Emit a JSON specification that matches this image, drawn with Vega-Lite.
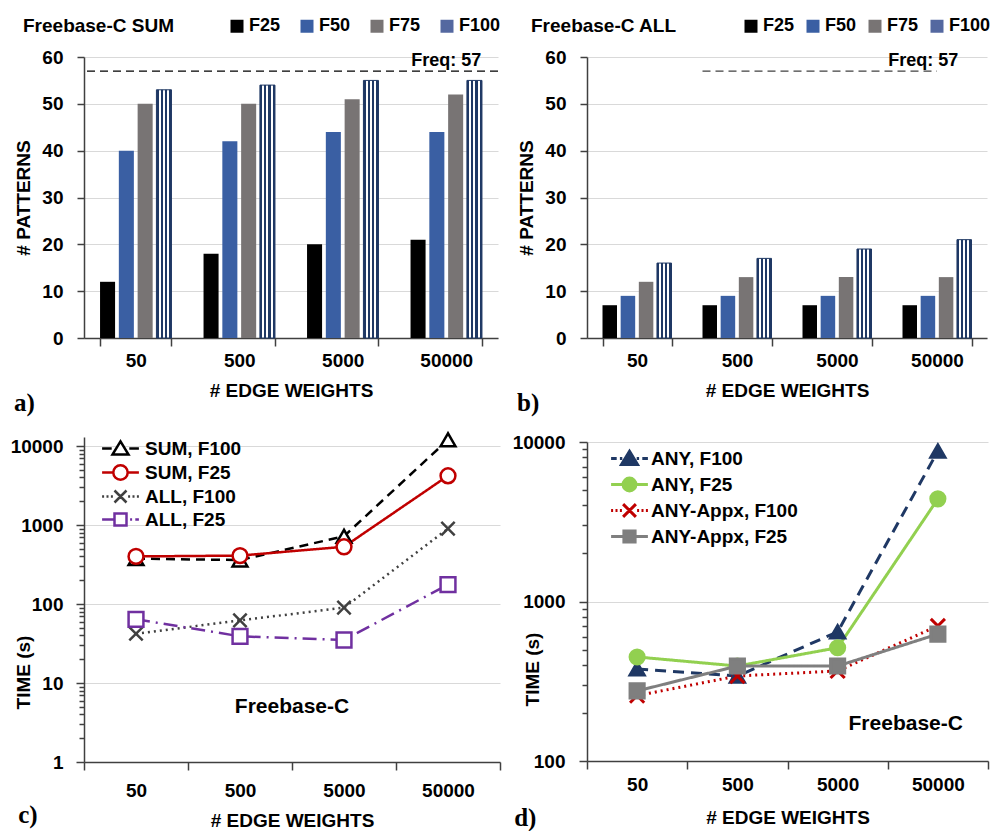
{
  "$schema": "https://vega.github.io/schema/vega-lite/v6.json",
  "background": "white",
  "padding": {"left": 10, "top": 17, "right": 0, "bottom": 0},
  "config": {
    "font": "Liberation Sans",
    "view": {"stroke": null},
    "axis": {
      "labelFont": "Liberation Sans", "labelFontWeight": "bold", "labelFontSize": 19, "labelColor": "#000000",
      "titleFont": "Liberation Sans", "titleFontWeight": "bold", "titleFontSize": 19, "titleColor": "#000000",
      "domainColor": "#404040", "domainWidth": 1.5, "tickColor": "#404040", "tickWidth": 1.5,
      "gridColor": "#d9d9d9", "gridWidth": 1
    },
    "legend": {"padding": 0, "labelFont": "Liberation Sans", "labelFontWeight": "bold", "labelColor": "#000000"}
  },
  "datasets": {
    "sum": [
      {"w": "50", "series": "F25", "n": 12}, {"w": "50", "series": "F50", "n": 40}, {"w": "50", "series": "F75", "n": 50}, {"w": "50", "series": "F100", "n": 53},
      {"w": "500", "series": "F25", "n": 18}, {"w": "500", "series": "F50", "n": 42}, {"w": "500", "series": "F75", "n": 50}, {"w": "500", "series": "F100", "n": 54},
      {"w": "5000", "series": "F25", "n": 20}, {"w": "5000", "series": "F50", "n": 44}, {"w": "5000", "series": "F75", "n": 51}, {"w": "5000", "series": "F100", "n": 55},
      {"w": "50000", "series": "F25", "n": 21}, {"w": "50000", "series": "F50", "n": 44}, {"w": "50000", "series": "F75", "n": 52}, {"w": "50000", "series": "F100", "n": 55}
    ],
    "all": [
      {"w": "50", "series": "F25", "n": 7}, {"w": "50", "series": "F50", "n": 9}, {"w": "50", "series": "F75", "n": 12}, {"w": "50", "series": "F100", "n": 16},
      {"w": "500", "series": "F25", "n": 7}, {"w": "500", "series": "F50", "n": 9}, {"w": "500", "series": "F75", "n": 13}, {"w": "500", "series": "F100", "n": 17},
      {"w": "5000", "series": "F25", "n": 7}, {"w": "5000", "series": "F50", "n": 9}, {"w": "5000", "series": "F75", "n": 13}, {"w": "5000", "series": "F100", "n": 19},
      {"w": "50000", "series": "F25", "n": 7}, {"w": "50000", "series": "F50", "n": 9}, {"w": "50000", "series": "F75", "n": 13}, {"w": "50000", "series": "F100", "n": 21}
    ],
    "freq": [{"label": "Freq: 57", "freq": 57}],
    "dataset": [{"label": "Freebase-C"}],
    "timeC": [
      {"w": "50", "series": "SUM, F100", "t": 375}, {"w": "500", "series": "SUM, F100", "t": 360}, {"w": "5000", "series": "SUM, F100", "t": 720}, {"w": "50000", "series": "SUM, F100", "t": 12000},
      {"w": "50", "series": "SUM, F25", "t": 400}, {"w": "500", "series": "SUM, F25", "t": 410}, {"w": "5000", "series": "SUM, F25", "t": 530}, {"w": "50000", "series": "SUM, F25", "t": 4200},
      {"w": "50", "series": "ALL, F100", "t": 42}, {"w": "500", "series": "ALL, F100", "t": 62}, {"w": "5000", "series": "ALL, F100", "t": 90}, {"w": "50000", "series": "ALL, F100", "t": 900},
      {"w": "50", "series": "ALL, F25", "t": 64}, {"w": "500", "series": "ALL, F25", "t": 39}, {"w": "5000", "series": "ALL, F25", "t": 35}, {"w": "50000", "series": "ALL, F25", "t": 176}
    ],
    "timeD": [
      {"w": "50", "series": "ANY, F100", "t": 378}, {"w": "500", "series": "ANY, F100", "t": 341}, {"w": "5000", "series": "ANY, F100", "t": 645}, {"w": "50000", "series": "ANY, F100", "t": 8770},
      {"w": "50", "series": "ANY, F25", "t": 449}, {"w": "500", "series": "ANY, F25", "t": 394}, {"w": "5000", "series": "ANY, F25", "t": 513}, {"w": "50000", "series": "ANY, F25", "t": 4400},
      {"w": "50", "series": "ANY-Appx, F100", "t": 257}, {"w": "500", "series": "ANY-Appx, F100", "t": 341}, {"w": "5000", "series": "ANY-Appx, F100", "t": 367}, {"w": "50000", "series": "ANY-Appx, F100", "t": 703},
      {"w": "50", "series": "ANY-Appx, F25", "t": 275}, {"w": "500", "series": "ANY-Appx, F25", "t": 394}, {"w": "5000", "series": "ANY-Appx, F25", "t": 394}, {"w": "50000", "series": "ANY-Appx, F25", "t": 625}
    ]
  },
  "spacing": 11,
  "resolve": {
    "scale": {"fill": "independent", "stroke": "independent", "shape": "independent", "strokeDash": "independent", "xOffset": "independent", "color": "independent", "opacity": "independent"},
    "legend": {"fill": "independent", "stroke": "independent", "shape": "independent", "strokeDash": "independent", "color": "independent", "opacity": "independent"}
  },
  "hconcat": [
    {
      "spacing": 12,
      "resolve": {
        "scale": {"fill": "independent", "stroke": "independent", "shape": "independent", "strokeDash": "independent", "xOffset": "independent", "color": "independent", "opacity": "independent"},
        "legend": {"fill": "independent", "stroke": "independent", "shape": "independent", "strokeDash": "independent", "color": "independent", "opacity": "independent"}
      },
      "vconcat": [
        {
          "width": 414, "height": 281,
          "title": {"text": "a)", "orient": "bottom", "anchor": "start", "frame": "bounds", "font": "Liberation Serif", "fontSize": 25, "fontWeight": "bold", "color": "#000000", "offset": -9},
          "layer": [
            {
              "data": {"name": "sum"},
              "mark": {"type": "bar", "strokeWidth": 1},
              "encoding": {
                "x": {"field": "w", "type": "ordinal", "sort": ["50", "500", "5000", "50000"], "scale": {"paddingInner": 0.31, "paddingOuter": 0.155},
                  "axis": {"title": "# EDGE WEIGHTS", "labelAngle": 0, "tickBand": "extent", "tickSize": 8, "labelPadding": 5, "titlePadding": 11}},
                "xOffset": {"field": "series", "type": "nominal", "sort": ["F25", "F50", "F75", "F100"], "scale": {"domain": ["F25", "F50", "F75", "F100"], "paddingInner": 0.2}},
                "y": {"field": "n", "type": "quantitative", "scale": {"domain": [0, 60], "nice": false},
                  "axis": {"title": "# PATTERNS", "values": [0, 5, 10, 15, 20, 25, 30, 35, 40, 45, 50, 55, 60], "labelOverlap": false,
                    "labelExpr": "datum.value % 10 === 0 ? datum.label : ''",
                    "gridOpacity": {"condition": {"test": "datum.value % 10 === 0", "value": 1}, "value": 0},
                    "tickSize": {"condition": {"test": "datum.value % 10 === 0", "value": 7}, "value": 4},
                    "labelPadding": 14, "titleX": -51, "titleBaseline": "bottom"}},
                "fill": {"field": "series", "type": "nominal",
                  "condition": {"test": "datum.series === 'F100'", "value": {"gradient": "linear", "x1": 0, "y1": 0, "x2": 1, "y2": 0, "stops": [{"offset": 0, "color": "#1f3864"}, {"offset": 0.14, "color": "#1f3864"}, {"offset": 0.14, "color": "#ffffff"}, {"offset": 0.29, "color": "#ffffff"}, {"offset": 0.29, "color": "#1f3864"}, {"offset": 0.43, "color": "#1f3864"}, {"offset": 0.43, "color": "#ffffff"}, {"offset": 0.57, "color": "#ffffff"}, {"offset": 0.57, "color": "#1f3864"}, {"offset": 0.71, "color": "#1f3864"}, {"offset": 0.71, "color": "#ffffff"}, {"offset": 0.86, "color": "#ffffff"}, {"offset": 0.86, "color": "#1f3864"}, {"offset": 1, "color": "#1f3864"}]}},
                  "scale": {"domain": ["F25", "F50", "F75", "F100"], "range": ["#000000", "#3a5fa3", "#787474", "#5468a0"]},
                  "legend": {"orient": "none", "legendX": -61, "legendY": -40, "direction": "horizontal", "title": "Freebase-C SUM", "titleOrient": "left", "titlePadding": 54,
                    "titleFont": "Liberation Sans", "titleFontSize": 19, "titleFontWeight": "bold", "titleColor": "#000000",
                    "labelFontSize": 18, "labelOffset": 3, "symbolType": "square", "symbolSize": 169, "columnPadding": 16}},
                "stroke": {"condition": {"test": "datum.series === 'F100'", "value": "#1f3864"}, "value": "transparent"}
              }
            },
            {
              "data": {"name": "freq"},
              "mark": {"type": "rule", "strokeDash": [8, 5], "color": "#000000", "strokeWidth": 1.3},
              "encoding": {"y": {"field": "freq", "type": "quantitative"}}
            },
            {
              "data": {"name": "freq"},
              "mark": {"type": "text", "font": "Liberation Sans", "fontWeight": "bold", "fontSize": 18, "baseline": "bottom", "dy": -1, "fill": "#000000"},
              "encoding": {"text": {"field": "label"}, "x": {"datum": "50000", "type": "ordinal"}, "y": {"field": "freq", "type": "quantitative"}}
            }
          ]
        },
        {
          "width": 416, "height": 325,
          "title": {"text": "c)", "orient": "bottom", "anchor": "start", "frame": "bounds", "font": "Liberation Serif", "fontSize": 25, "fontWeight": "bold", "color": "#000000", "offset": -27, "dx": 8},
          "layer": [
            {
              "data": {"name": "timeC"},
              "mark": {"type": "line", "strokeWidth": 2.5},
              "encoding": {
                "x": {"field": "w", "type": "ordinal", "sort": ["50", "500", "5000", "50000"], "bandPosition": 0.5, "scale": {"type": "band", "paddingInner": 0, "paddingOuter": 0},
                  "axis": {"title": "# EDGE WEIGHTS", "labelAngle": 0, "tickBand": "extent", "tickSize": 8, "labelPadding": 11, "titlePadding": 11}},
                "y": {"field": "t", "type": "quantitative", "scale": {"type": "log", "domain": [1, 13000], "nice": false},
                  "axis": {"title": "TIME (s)", "values": [1, 2, 3, 4, 5, 6, 7, 8, 9, 10, 20, 30, 40, 50, 60, 70, 80, 90, 100, 200, 300, 400, 500, 600, 700, 800, 900, 1000, 2000, 3000, 4000, 5000, 6000, 7000, 8000, 9000, 10000],
                    "format": "d", "labelOverlap": false,
                    "labelExpr": "indexof([1, 10, 100, 1000, 10000], datum.value) >= 0 ? datum.label : ''",
                    "gridOpacity": {"condition": {"test": "indexof([1, 10, 100, 1000, 10000], datum.value) >= 0", "value": 1}, "value": 0},
                    "tickSize": {"condition": {"test": "indexof([1, 10, 100, 1000, 10000], datum.value) >= 0", "value": 8}, "value": 5},
                    "labelPadding": 13, "titleX": -51, "titleY": 235, "titleAlign": "center", "titleBaseline": "bottom"}},
                "stroke": {"field": "series", "type": "nominal", "scale": {"domain": ["SUM, F25", "SUM, F100", "ALL, F100", "ALL, F25"], "range": ["#c00000", "#000000", "#404040", "#7030a0"]}, "legend": null},
                "strokeDash": {"field": "series", "type": "nominal", "scale": {"domain": ["SUM, F25", "SUM, F100", "ALL, F100", "ALL, F25"], "range": [[1, 0], [9, 6], [2, 4], [14, 6, 2, 6]]}, "legend": null}
              }
            },
            {
              "data": {"name": "timeC"},
              "mark": {"type": "point", "filled": true, "size": 220, "strokeWidth": 2.5},
              "encoding": {
                "x": {"field": "w", "type": "ordinal", "sort": ["50", "500", "5000", "50000"], "bandPosition": 0.5},
                "y": {"field": "t", "type": "quantitative"},
                "stroke": {"field": "series", "type": "nominal", "legend": null},
                "fill": {"field": "series", "type": "nominal", "scale": {"domain": ["SUM, F25", "SUM, F100", "ALL, F100", "ALL, F25"], "range": ["#ffffff", "#ffffff", "#ffffff", "#ffffff"]}, "legend": null},
                "shape": {"field": "series", "type": "nominal", "scale": {"domain": ["SUM, F25", "SUM, F100", "ALL, F100", "ALL, F25"], "range": ["circle", "triangle-up", "M-0.9,-0.9L0.9,0.9M-0.9,0.9L0.9,-0.9", "square"]}, "legend": null},
                "opacity": {"field": "series", "type": "nominal", "scale": {"domain": ["SUM, F100", "SUM, F25", "ALL, F100", "ALL, F25"], "range": [1, 1, 1, 1]},
                  "legend": {"orient": "none", "legendX": 27, "legendY": 2, "title": null, "labelFontSize": 19, "labelOffset": 15, "symbolSize": 256, "rowPadding": 0, "symbolStrokeWidth": 2.5, "symbolOpacity": 1,
                    "symbolType": {"expr": "datum.value === 'SUM, F100' ? 'M-2.3,0H-1.1M1.1,0H2.3M0,-0.9L1,0.75H-1Z' : datum.value === 'SUM, F25' ? 'M-2.3,0H-0.9M0.9,0H2.3M0.9,0A0.9,0.9 0 1,1 -0.9,0A0.9,0.9 0 1,1 0.9,0Z' : datum.value === 'ALL, F100' ? 'M-2.3,0H-2.05M-1.75,0H-1.5M-1.2,0H-0.95M-0.75,-0.75L0.75,0.75M-0.75,0.75L0.75,-0.75M0.95,0H1.2M1.5,0H1.75M2.05,0H2.3' : 'M-2.3,0H-0.85M-0.75,-0.75H0.75V0.75H-0.75ZM1.2,0H1.45M1.85,0H2.3'"},
                    "symbolStrokeColor": {"expr": "datum.value === 'SUM, F100' ? '#000000' : datum.value === 'SUM, F25' ? '#c00000' : datum.value === 'ALL, F100' ? '#404040' : '#7030a0'"},
                    "symbolFillColor": {"expr": "datum.value === 'SUM, F100' ? '#ffffff' : '#ffffff'"}}}
              }
            },
            {
              "data": {"name": "dataset"},
              "mark": {"type": "text", "font": "Liberation Sans", "fontSize": 21, "fontWeight": "bold", "fill": "#000000"},
              "encoding": {"text": {"field": "label"}, "x": {"datum": "5000", "type": "ordinal", "bandPosition": 0}, "y": {"datum": 5, "type": "quantitative"}}
            }
          ]
        }
      ]
    },
    {
      "spacing": 17,
      "resolve": {
        "scale": {"fill": "independent", "stroke": "independent", "shape": "independent", "strokeDash": "independent", "xOffset": "independent", "color": "independent", "opacity": "independent"},
        "legend": {"fill": "independent", "stroke": "independent", "shape": "independent", "strokeDash": "independent", "color": "independent", "opacity": "independent"}
      },
      "vconcat": [
        {
          "width": 400, "height": 281,
          "title": {"text": "b)", "orient": "bottom", "anchor": "start", "frame": "bounds", "font": "Liberation Serif", "fontSize": 25, "fontWeight": "bold", "color": "#000000", "offset": -9},
          "layer": [
            {
              "data": {"name": "all"},
              "mark": {"type": "bar", "strokeWidth": 1},
              "encoding": {
                "x": {"field": "w", "type": "ordinal", "sort": ["50", "500", "5000", "50000"], "scale": {"paddingInner": 0.31, "paddingOuter": 0.155},
                  "axis": {"title": "# EDGE WEIGHTS", "labelAngle": 0, "tickBand": "extent", "tickSize": 8, "labelPadding": 5, "titlePadding": 11}},
                "xOffset": {"field": "series", "type": "nominal", "sort": ["F25", "F50", "F75", "F100"], "scale": {"domain": ["F25", "F50", "F75", "F100"], "paddingInner": 0.2}},
                "y": {"field": "n", "type": "quantitative", "scale": {"domain": [0, 60], "nice": false},
                  "axis": {"title": "# PATTERNS", "values": [0, 5, 10, 15, 20, 25, 30, 35, 40, 45, 50, 55, 60], "labelOverlap": false,
                    "labelExpr": "datum.value % 10 === 0 ? datum.label : ''",
                    "gridOpacity": {"condition": {"test": "datum.value % 10 === 0", "value": 1}, "value": 0},
                    "tickSize": {"condition": {"test": "datum.value % 10 === 0", "value": 7}, "value": 4},
                    "labelPadding": 14, "titleX": -51, "titleBaseline": "bottom"}},
                "fill": {"field": "series", "type": "nominal",
                  "condition": {"test": "datum.series === 'F100'", "value": {"gradient": "linear", "x1": 0, "y1": 0, "x2": 1, "y2": 0, "stops": [{"offset": 0, "color": "#1f3864"}, {"offset": 0.14, "color": "#1f3864"}, {"offset": 0.14, "color": "#ffffff"}, {"offset": 0.29, "color": "#ffffff"}, {"offset": 0.29, "color": "#1f3864"}, {"offset": 0.43, "color": "#1f3864"}, {"offset": 0.43, "color": "#ffffff"}, {"offset": 0.57, "color": "#ffffff"}, {"offset": 0.57, "color": "#1f3864"}, {"offset": 0.71, "color": "#1f3864"}, {"offset": 0.71, "color": "#ffffff"}, {"offset": 0.86, "color": "#ffffff"}, {"offset": 0.86, "color": "#1f3864"}, {"offset": 1, "color": "#1f3864"}]}},
                  "scale": {"domain": ["F25", "F50", "F75", "F100"], "range": ["#000000", "#3a5fa3", "#787474", "#5468a0"]},
                  "legend": {"orient": "none", "legendX": -56, "legendY": -40, "direction": "horizontal", "title": "Freebase-C ALL", "titleOrient": "left", "titlePadding": 65,
                    "titleFont": "Liberation Sans", "titleFontSize": 19, "titleFontWeight": "bold", "titleColor": "#000000",
                    "labelFontSize": 18, "labelOffset": 3, "symbolType": "square", "symbolSize": 169, "columnPadding": 8}},
                "stroke": {"condition": {"test": "datum.series === 'F100'", "value": "#1f3864"}, "value": "transparent"}
              }
            },
            {
              "data": {"name": "freq"},
              "mark": {"type": "rule", "strokeDash": [8, 5], "color": "#404040", "strokeWidth": 1.3},
              "encoding": {"x": {"datum": "500", "type": "ordinal", "bandPosition": 0}, "x2": {"datum": "50000"}, "y": {"field": "freq", "type": "quantitative"}}
            },
            {
              "data": {"name": "freq"},
              "mark": {"type": "text", "font": "Liberation Sans", "fontWeight": "bold", "fontSize": 18, "baseline": "bottom", "dy": -1, "fill": "#000000"},
              "encoding": {"text": {"field": "label"}, "x": {"datum": "50000", "type": "ordinal", "bandPosition": 0.3}, "y": {"field": "freq", "type": "quantitative"}}
            }
          ]
        },
        {
          "width": 401, "height": 319,
          "title": {"text": "d)", "orient": "bottom", "anchor": "start", "frame": "bounds", "font": "Liberation Serif", "fontSize": 25, "fontWeight": "bold", "color": "#000000", "offset": -21, "dx": 2},
          "layer": [
            {
              "data": {"name": "timeD"},
              "mark": {"type": "line", "strokeWidth": 3},
              "encoding": {
                "x": {"field": "w", "type": "ordinal", "sort": ["50", "500", "5000", "50000"], "bandPosition": 0.5, "scale": {"type": "band", "paddingInner": 0, "paddingOuter": 0},
                  "axis": {"title": "# EDGE WEIGHTS", "labelAngle": 0, "tickBand": "extent", "tickSize": 8, "labelPadding": 6, "titlePadding": 14}},
                "y": {"field": "t", "type": "quantitative", "scale": {"type": "log", "domain": [100, 10000], "nice": false},
                  "axis": {"title": "TIME (s)", "values": [100, 200, 300, 400, 500, 600, 700, 800, 900, 1000, 2000, 3000, 4000, 5000, 6000, 7000, 8000, 9000, 10000],
                    "format": "d", "labelOverlap": false,
                    "labelExpr": "indexof([100, 1000, 10000], datum.value) >= 0 ? datum.label : ''",
                    "gridOpacity": {"condition": {"test": "indexof([100, 1000, 10000], datum.value) >= 0", "value": 1}, "value": 0},
                    "tickSize": {"condition": {"test": "indexof([100, 1000, 10000], datum.value) >= 0", "value": 8}, "value": 5},
                    "labelPadding": 14, "titleX": -45, "titleY": 227, "titleAlign": "center", "titleBaseline": "bottom"}},
                "stroke": {"field": "series", "type": "nominal", "scale": {"domain": ["ANY, F25", "ANY, F100", "ANY-Appx, F100", "ANY-Appx, F25"], "range": ["#92d050", "#1f3864", "#c00000", "#7f7f7f"]}, "legend": null},
                "strokeDash": {"field": "series", "type": "nominal", "scale": {"domain": ["ANY, F25", "ANY, F100", "ANY-Appx, F100", "ANY-Appx, F25"], "range": [[1, 0], [11, 7], [2, 4], [1, 0]]}, "legend": null}
              }
            },
            {
              "data": {"name": "timeD"},
              "mark": {"type": "point", "filled": true, "size": 200, "strokeWidth": 3},
              "encoding": {
                "x": {"field": "w", "type": "ordinal", "sort": ["50", "500", "5000", "50000"], "bandPosition": 0.5},
                "y": {"field": "t", "type": "quantitative"},
                "stroke": {"field": "series", "type": "nominal", "legend": null},
                "fill": {"field": "series", "type": "nominal", "scale": {"domain": ["ANY, F25", "ANY, F100", "ANY-Appx, F100", "ANY-Appx, F25"], "range": ["#92d050", "#1f3864", "#c00000", "#7f7f7f"]}, "legend": null},
                "shape": {"field": "series", "type": "nominal", "scale": {"domain": ["ANY, F25", "ANY, F100", "ANY-Appx, F100", "ANY-Appx, F25"], "range": ["circle", "triangle-up", "M-1,-1L1,1M-1,1L1,-1", "square"]}, "legend": null},
                "opacity": {"field": "series", "type": "nominal", "scale": {"domain": ["ANY, F100", "ANY, F25", "ANY-Appx, F100", "ANY-Appx, F25"], "range": [1, 1, 1, 1]},
                  "legend": {"orient": "none", "legendX": 33, "legendY": 7, "title": null, "labelFontSize": 19, "labelOffset": 12, "symbolSize": 256, "rowPadding": 1, "symbolStrokeWidth": 3, "symbolOpacity": 1,
                    "symbolType": {"expr": "datum.value === 'ANY, F100' ? 'M-2.3,0H-1.6M-1.2,0H-0.9M0.9,0H1.2M1.6,0H2.3M0,-0.9L1,0.75H-1Z' : datum.value === 'ANY, F25' ? 'M-2.3,0H2.3M0.8,0A0.8,0.8 0 1,1 -0.8,0A0.8,0.8 0 1,1 0.8,0Z' : datum.value === 'ANY-Appx, F100' ? 'M-2.3,0H-2.05M-1.75,0H-1.5M-1.2,0H-0.95M-0.8,-0.8L0.8,0.8M-0.8,0.8L0.8,-0.8M0.95,0H1.2M1.5,0H1.75M2.05,0H2.3' : 'M-2.3,0H2.3M-0.7,-0.7H0.7V0.7H-0.7Z'"},
                    "symbolStrokeColor": {"expr": "datum.value === 'ANY, F100' ? '#1f3864' : datum.value === 'ANY, F25' ? '#92d050' : datum.value === 'ANY-Appx, F100' ? '#c00000' : '#7f7f7f'"},
                    "symbolFillColor": {"expr": "datum.value === 'ANY, F100' ? '#1f3864' : datum.value === 'ANY, F25' ? '#92d050' : datum.value === 'ANY-Appx, F100' ? '#c00000' : '#7f7f7f'"}}}
              }
            },
            {
              "data": {"name": "dataset"},
              "mark": {"type": "text", "font": "Liberation Sans", "fontSize": 21, "fontWeight": "bold", "fill": "#000000", "align": "right"},
              "encoding": {"text": {"field": "label"}, "x": {"datum": "50000", "type": "ordinal", "bandPosition": 0.75}, "y": {"datum": 170, "type": "quantitative"}}
            }
          ]
        }
      ]
    }
  ]
}
